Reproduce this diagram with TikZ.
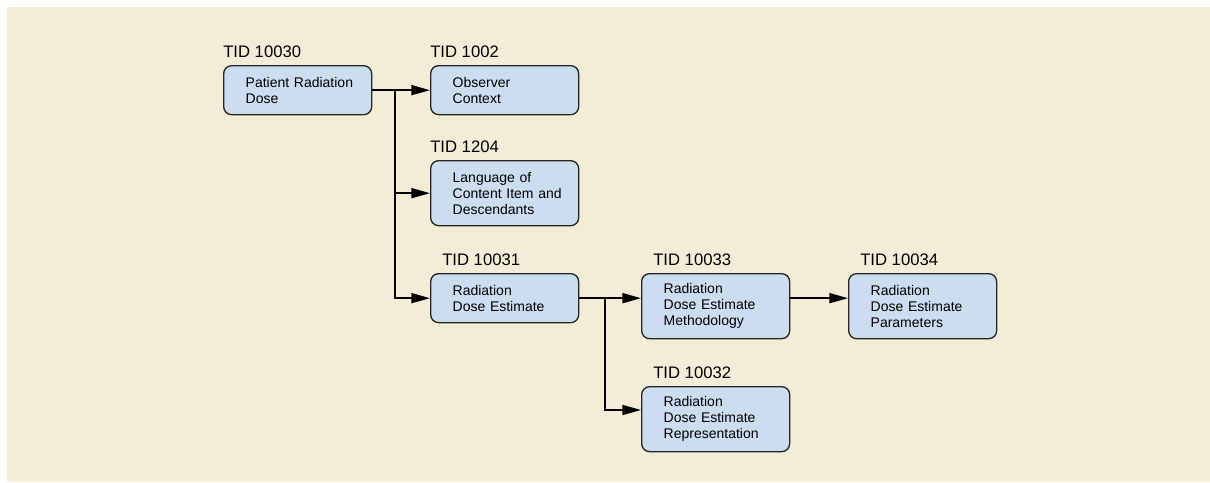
\documentclass[tikz,border=0pt]{standalone}
\usepackage{fontspec}
\setmainfont{Liberation Sans}
\usetikzlibrary{positioning, calc, arrows.meta}
\definecolor{bgbeige}{HTML}{F3ECD6}
\definecolor{boxblue}{HTML}{CCDDF0}
\tikzstyle{myarrow} = [-{Triangle[length=14pt, width=7.5pt]}, line width=1.3pt]
\tikzstyle{tidbox} = [rectangle, rounded corners=6pt, draw=black!85, line width=1pt, fill=boxblue, anchor=north west, text width=111pt, inner xsep=0pt, inner ysep=3pt, minimum height=36.75pt, align=left, font=\fontsize{10.5}{12}\selectfont, execute at begin node={\leftskip=16.5pt}]
\tikzstyle{tidlabel} = [anchor=base west, inner sep=0pt, font=\fontsize{12.5}{15}\selectfont]
\begin{document}
\begin{tikzpicture}[x=0.75pt, y=-0.75pt]

\tikzstyle{tall} = [minimum height=48.75pt]

\useasboundingbox (0,0) rectangle (1210,482);
\fill[bgbeige] (7,7) rectangle (1210,482);

\node (b10030) [tidbox] at (223,65) {Patient Radiation\\Dose};
\node (b1002) [tidbox] at (430,65) {Observer\\Context};
\node (b1204) [tidbox, tall] at (430,160) {Language of\\Content Item and\\Descendants};
\node (b10031) [tidbox] at (430,273) {Radiation\\Dose Estimate};
\node (b10033) [tidbox, tall] at (641,273) {Radiation\\Dose Estimate\\Methodology};
\node (b10032) [tidbox, tall] at (641,386) {Radiation\\Dose Estimate\\Representation};
\node (b10034) [tidbox, tall] at (848,273) {Radiation\\Dose Estimate\\Parameters};

\node (t10030) [tidlabel] at ([yshift=6pt]b10030.north west) {TID 10030};
\node (t1002) [tidlabel] at ([yshift=6pt]b1002.north west) {TID 1002};
\node (t1204) [tidlabel] at ([yshift=6pt]b1204.north west) {TID 1204};
\node (t10031) [tidlabel] at ([xshift=9pt, yshift=6pt]b10031.north west) {TID 10031};
\node (t10033) [tidlabel] at ([xshift=9pt, yshift=6pt]b10033.north west) {TID 10033};
\node (t10032) [tidlabel] at ([xshift=9pt, yshift=6pt]b10032.north west) {TID 10032};
\node (t10034) [tidlabel] at ([xshift=9pt, yshift=6pt]b10034.north west) {TID 10034};

\coordinate (j1) at ([xshift=17.25pt]b10030.east);
\coordinate (j2) at ([xshift=19.5pt]b10031.east);

\draw [myarrow] (b10030.east) -- (b1002.west);
\draw [myarrow] (j1) |- (b1204.west);
\draw [myarrow] (j1) |- (b10031.west);
\draw [myarrow] (b10031.east) -- (b10031.east -| b10033.west);
\draw [myarrow] (j2) |- ([yshift=-18pt]b10032.north west);
\draw [myarrow] (b10031.east -| b10033.east) -- (b10031.east -| b10034.west);
\end{tikzpicture}
\end{document}
